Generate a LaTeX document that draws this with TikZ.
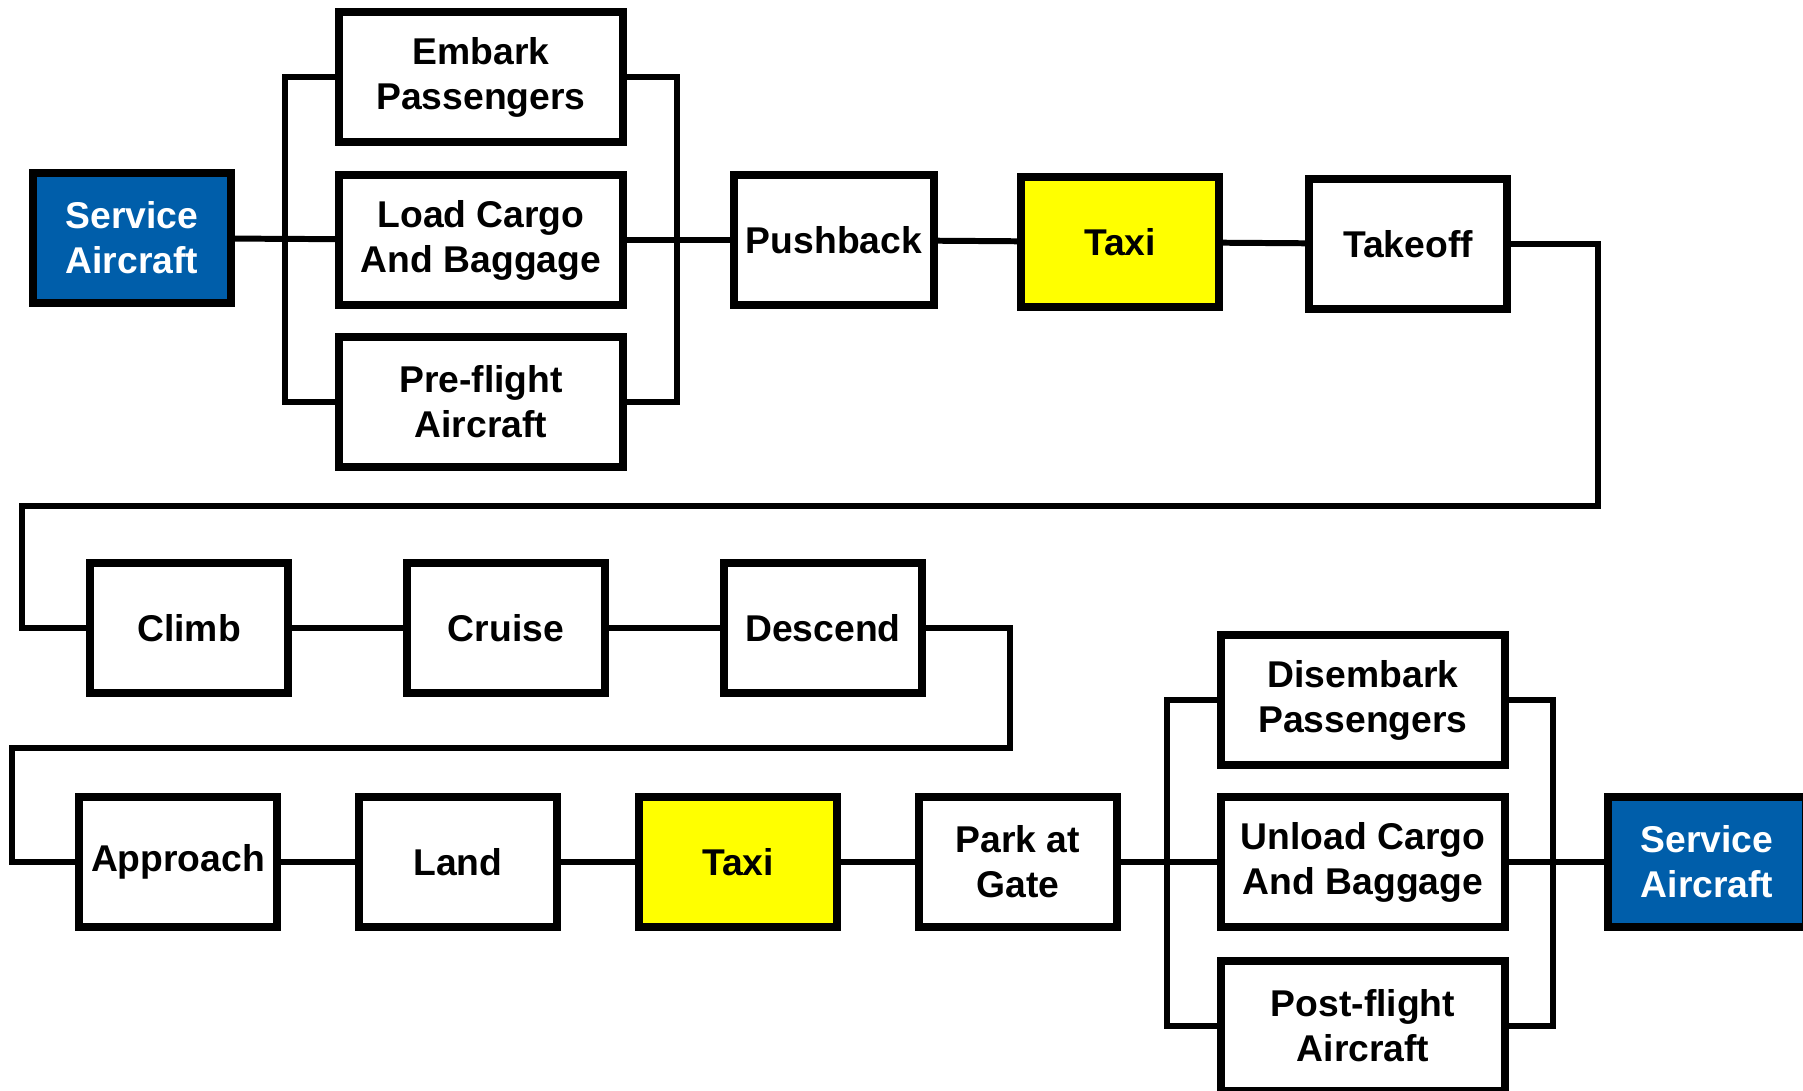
\documentclass[tikz,border=0pt]{standalone}
\usepackage{fontspec}
\setmainfont{Liberation Sans}
\usepackage{xcolor}
\usepackage{tikz}
\usetikzlibrary{positioning,calc}
\definecolor{svcblue}{RGB}{0,94,170}
\definecolor{taxiyellow}{RGB}{255,255,0}

\begin{document}
\begin{tikzpicture}[
  x=0.01cm, y=-0.01cm,
  font=\bfseries\fontsize{10.6}{12.8}\selectfont,
  stage/.style={
    draw=black, line width=2.3pt, align=center,
    minimum width=1.98cm, minimum height=1.30cm,
    fill=#1
  },
  stage/.default=white,
  wstage/.style={stage=#1, minimum width=2.83cm},
  wstage/.default=white,
  svc/.style={stage=svcblue, text=white},
  link/.style={draw=black, line width=1.7pt}
]
\useasboundingbox (0,0) rectangle (1803,1091);

% ── Row 1: Turnaround and departure ─────────────────────────────────────────
\node[svc]               (svcA)     at (132,238)  {Service\\Aircraft};
\node[wstage]            (embark)   at (481,77)   {Embark\\Passengers};
\node[wstage]            (load)     at (481,240)  {Load Cargo\\And Baggage};
\node[wstage]            (preflt)   at (481,402)  {Pre-flight\\Aircraft};
\node[stage]             (push)     at (834,240)  {Pushback};
\node[stage=taxiyellow]  (taxiA)    at (1120,242) {Taxi};
\node[stage]             (takeoff)  at (1408,244) {Takeoff};

% ── Row 2: Flight ───────────────────────────────────────────────────────────
\node[stage] (climb)   at (189,628) {Climb};
\node[stage] (cruise)  at (506,628) {Cruise};
\node[stage] (descend) at (823,628) {Descend};

% ── Row 3: Arrival and turnaround ───────────────────────────────────────────
\node[stage]             (approach)  at (178,862)  {Approach};
\node[stage]             (land)      at (458,862)  {Land};
\node[stage=taxiyellow]  (taxiB)     at (738,862)  {Taxi};
\node[stage]             (park)      at (1018,862) {Park at\\Gate};
\node[wstage]            (disembark) at (1363,700) {Disembark\\Passengers};
\node[wstage]            (unload)    at (1363,862) {Unload Cargo\\And Baggage};
\node[wstage]            (postflt)   at (1363,1026){Post-flight\\Aircraft};
\node[svc]               (svcB)      at (1707,862) {Service\\Aircraft};

% ── Junction points ─────────────────────────────────────────────────────────
\coordinate (splitA) at (285,240);
\coordinate (mergeA) at (677,240);
\coordinate (splitB) at (1167,862);
\coordinate (mergeB) at (1553,862);
\coordinate (turnR1) at (1598,506);
\coordinate (turnL1) at (22,506);
\coordinate (turnR2) at (1010,748);
\coordinate (turnL2) at (12,748);

% ── Links: row 1 ────────────────────────────────────────────────────────────
\draw[link] (svcA) -- (load);
\draw[link] (load) -- (push);
\draw[link] (embark.west) -| (splitA) |- (preflt.west);
\draw[link] (embark.east) -| (mergeA) |- (preflt.east);
\draw[link] (push) -- (taxiA);
\draw[link] (taxiA) -- (takeoff);
\draw[link] (takeoff.east) -| (turnR1) -- (turnL1) |- (climb.west);

% ── Links: row 2 ────────────────────────────────────────────────────────────
\draw[link] (climb) -- (cruise);
\draw[link] (cruise) -- (descend);
\draw[link] (descend.east) -| (turnR2) -- (turnL2) |- (approach.west);

% ── Links: row 3 ────────────────────────────────────────────────────────────
\draw[link] (approach) -- (land);
\draw[link] (land) -- (taxiB);
\draw[link] (taxiB) -- (park);
\draw[link] (park) -- (unload);
\draw[link] (unload) -- (svcB);
\draw[link] (disembark.west) -| (splitB) |- (postflt.west);
\draw[link] (disembark.east) -| (mergeB) |- (postflt.east);

\end{tikzpicture}
\end{document}
